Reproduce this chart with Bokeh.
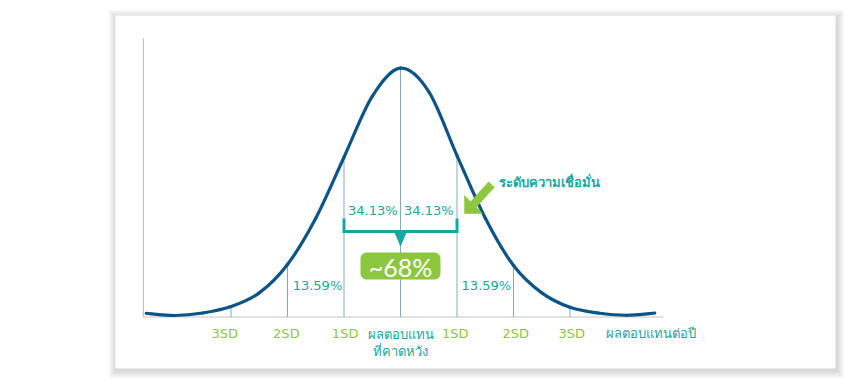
from bokeh.plotting import figure
from bokeh.models import Range1d, BoxAnnotation, Label
from bokeh.core.properties import value
from bokeh.embed import file_html
from bokeh.resources import INLINE

# ---------------- data ----------------
# bell curve: x in standard deviations, y as fraction of the peak height
CURVE_SD = [-4.5, -4.0, -3.5, -3.0, -2.5, -2.0, -1.5, -1.0, -0.5, 0.0,
            0.5, 1.0, 1.5, 2.0, 2.5, 3.0, 3.5, 4.0, 4.5]
CURVE_H = [0.015, 0.006, 0.016, 0.042, 0.097, 0.211, 0.397, 0.642, 0.887, 1.000,
           0.906, 0.649, 0.398, 0.207, 0.097, 0.039, 0.016, 0.007, 0.016]

# vertical guide lines at each SD, up to the curve
SD_POS = [-3, -2, -1, 0, 1, 2, 3]
SD_H = [0.042, 0.211, 0.642, 1.000, 0.649, 0.207, 0.039]

# category labels under the axis
AXIS_LABELS = ["3SD", "2SD", "1SD", "ผลตอบแทน", "1SD", "2SD", "3SD"]
AXIS_LABEL_POS = [-3.11, -2.02, -0.98, 0.0, 0.97, 2.04, 3.03]
CENTER_LABEL_2 = "ที่คาดหวัง"
END_LABEL = "ผลตอบแทนต่อปี"
END_LABEL_POS = 4.44

# area shares
SHARE_LABELS = ["13.59%", "34.13%", "34.13%", "13.59%"]
SHARE_POS = [-1.47, -0.49, 0.50, 1.52]
SHARE_LEVEL = [0.127, 0.428, 0.428, 0.127]

CONF_TOTAL = "~68%"
CONF_LABEL = "ระดับความเชื่อมั่น"
CONF_RANGE = [-1, 1]

# ---------------- layout helpers (pixel -> data) ----------------
W, H = 850, 388
X0, SDPX = 400.0, 56.5      # centre pixel, pixels per SD
Y0, HPX = 316.5, 248.8      # baseline pixel, pixels per unit height


def X(px):
    return (px - X0) / SDPX


def Y(py):
    return (Y0 - py) / HPX


CURVE_C = "#0b5485"
GUIDE_C = "#86a8c4"
AXIS_C = "#c4c4c4"
TEAL = "#15a8a0"
GREEN = "#8dc63f"
FONT = value("Tahoma, 'DejaVu Sans', 'Noto Sans', sans-serif")

p = figure(width=W, height=H, output_backend="svg", toolbar_location=None,
           x_range=Range1d(X(0), X(W)), y_range=Range1d(Y(H), Y(0)),
           min_border=0, background_fill_color="white", border_fill_color="white")
p.axis.visible = False
p.grid.visible = False
p.outline_line_color = None

# card with soft shadow
for i in range(8, 0, -1):
    p.quad(left=X(115 - i + 1), right=X(835 + i + 1), top=Y(15 - i + 2), bottom=Y(368 + i + 2),
           fill_color="black", fill_alpha=0.02, line_color=None)
p.quad(left=X(115), right=X(835), top=Y(15), bottom=Y(368),
       fill_color="white", line_color=None)

# axis lines
x_start = min(CURVE_SD) - 0.05
p.segment(x0=[x_start, x_start], y0=[0, 0], x1=[x_start, 4.65], y1=[1.12, 0],
          line_color=AXIS_C, line_width=1.2)

# SD guide lines
p.segment(x0=SD_POS, y0=[0] * len(SD_POS), x1=SD_POS, y1=SD_H,
          line_color=GUIDE_C, line_width=1)

# the bell curve: smoothed line through the points (cubic Bezier segments)
n = len(CURVE_SD)
pts = list(zip(CURVE_SD, CURVE_H))
bx0, by0, bx1, by1, cx0, cy0, cx1, cy1 = ([] for _ in range(8))
for i in range(n - 1):
    pm = pts[max(i - 1, 0)]
    p0 = pts[i]
    p1 = pts[i + 1]
    p2 = pts[min(i + 2, n - 1)]
    bx0.append(p0[0]); by0.append(p0[1]); bx1.append(p1[0]); by1.append(p1[1])
    cx0.append(p0[0] + (p1[0] - pm[0]) / 6); cy0.append(p0[1] + (p1[1] - pm[1]) / 6)
    cx1.append(p1[0] - (p2[0] - p0[0]) / 6); cy1.append(p1[1] - (p2[1] - p0[1]) / 6)
p.bezier(x0=bx0, y0=by0, x1=bx1, y1=by1, cx0=cx0, cy0=cy0, cx1=cx1, cy1=cy1,
         line_color=CURVE_C, line_width=3.2, line_cap="round")

# bracket over +-1 SD
b_top, b_bot = Y(218), Y(231)
p.line([CONF_RANGE[0], CONF_RANGE[0], CONF_RANGE[1], CONF_RANGE[1]],
       [b_top, b_bot, b_bot, b_top], line_color=TEAL, line_width=3, line_join="miter")
p.patch([-6 / SDPX, 6 / SDPX, 0], [b_bot, b_bot, Y(245)], fill_color=TEAL, line_color=TEAL)

# ~68% box
box = BoxAnnotation(left=X(360), right=X(440), top=Y(252), bottom=Y(279),
                    fill_color=GREEN, fill_alpha=1.0, line_color=None, border_radius=6)
p.add_layout(box)
p.add_layout(Label(x=0, y=Y(266), text=CONF_TOTAL, text_color="white", text_font="Lato",
                   text_font_size="25px", text_align="center", text_baseline="middle"))

# share labels
p.text(x=SHARE_POS, y=SHARE_LEVEL, text=SHARE_LABELS, text_color=TEAL, text_font=FONT,
       text_font_size="13px", text_align="center", text_baseline="middle")

# axis category labels
sd_idx = [i for i, t in enumerate(AXIS_LABELS) if t.endswith("SD")]
p.text(x=[AXIS_LABEL_POS[i] for i in sd_idx], y=[Y(333)] * len(sd_idx),
       text=[AXIS_LABELS[i] for i in sd_idx], text_color=GREEN, text_font=FONT,
       text_font_size="13px", text_align="center", text_baseline="middle")
c_idx = [i for i, t in enumerate(AXIS_LABELS) if not t.endswith("SD")]
p.text(x=[AXIS_LABEL_POS[i] for i in c_idx] + [0], y=[Y(334)] * len(c_idx) + [Y(351)],
       text=[AXIS_LABELS[i] for i in c_idx] + [CENTER_LABEL_2], text_color=TEAL, text_font=FONT,
       text_font_size="13px", text_align="center", text_baseline="middle")
p.text(x=[END_LABEL_POS], y=[Y(333)], text=[END_LABEL], text_color=TEAL, text_font=FONT,
       text_font_size="13px", text_align="center", text_baseline="middle")

# confidence label and green arrow
p.text(x=[X(498)], y=[Y(182)], text=[CONF_LABEL], text_color=TEAL, text_font=FONT,
       text_font_size="13px", text_font_style="bold", text_align="left", text_baseline="middle")
arrow_px = [(464, 213), (464, 195), (470.1, 201.3), (488.1, 181.3), (493.9, 186.7),
            (475.9, 206.7), (482, 213)]
p.patch([X(a) for a, b in arrow_px], [Y(b) for a, b in arrow_px],
        fill_color=GREEN, line_color=GREEN, line_width=0.5)

open("out.html", "w").write(file_html(p, INLINE))
